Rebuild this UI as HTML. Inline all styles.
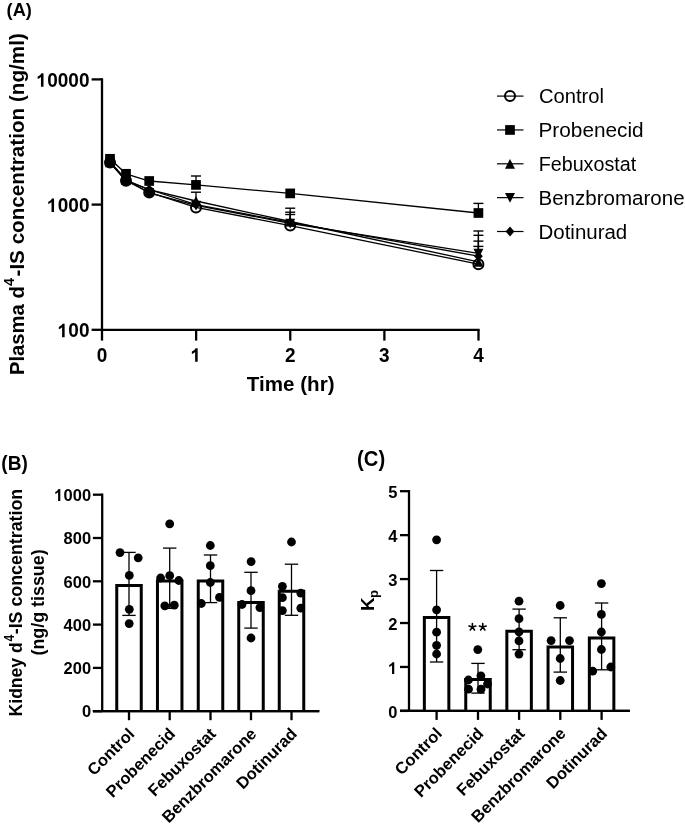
<!DOCTYPE html>
<html><head><meta charset="utf-8"><style>
html,body{margin:0;padding:0;background:#fff;}
svg{display:block;font-family:"Liberation Sans", sans-serif;filter:grayscale(1);}
</style></head><body>
<svg width="685" height="826" viewBox="0 0 685 826" font-family='"Liberation Sans", sans-serif' fill="#000">
<text transform="translate(6.6,15.8) scale(0.96,1)" font-size="19" font-weight="bold">(A)</text>
<path d="M102.0,79.4 V329.8 H478.5" fill="none" stroke="#000" stroke-width="2.3" stroke-linecap="square"/>
<line x1="91.6" y1="79.4" x2="102.0" y2="79.4" stroke="#000" stroke-width="2.3"/>
<line x1="91.6" y1="204.60000000000002" x2="102.0" y2="204.60000000000002" stroke="#000" stroke-width="2.3"/>
<line x1="91.6" y1="329.8" x2="102.0" y2="329.8" stroke="#000" stroke-width="2.3"/>
<line x1="102.0" y1="329.8" x2="102.0" y2="340.6" stroke="#000" stroke-width="2.3"/>
<g transform="translate(0,354.95) scale(1,1.04) translate(0,-354.95)">
<text x="102.0" y="361.6" font-size="19" font-weight="bold" text-anchor="middle">0</text>
</g>
<line x1="196.125" y1="329.8" x2="196.125" y2="340.6" stroke="#000" stroke-width="2.3"/>
<g transform="translate(0,354.95) scale(1,1.04) translate(0,-354.95)">
<text x="196.125" y="361.6" font-size="19" font-weight="bold" text-anchor="middle"> </text>
<path transform="translate(190.24,361.6) scale(0.009277,-0.009277)" d="M801 0L527 0L527 1033Q377 893 173 826L173 1075Q280 1110 406 1208Q532 1306 579 1409L801 1409Z"/>
</g>
<line x1="290.25" y1="329.8" x2="290.25" y2="340.6" stroke="#000" stroke-width="2.3"/>
<g transform="translate(0,354.95) scale(1,1.04) translate(0,-354.95)">
<text x="290.25" y="361.6" font-size="19" font-weight="bold" text-anchor="middle">2</text>
</g>
<line x1="384.375" y1="329.8" x2="384.375" y2="340.6" stroke="#000" stroke-width="2.3"/>
<g transform="translate(0,354.95) scale(1,1.04) translate(0,-354.95)">
<text x="384.375" y="361.6" font-size="19" font-weight="bold" text-anchor="middle">3</text>
</g>
<line x1="478.5" y1="329.8" x2="478.5" y2="340.6" stroke="#000" stroke-width="2.3"/>
<g transform="translate(0,354.95) scale(1,1.04) translate(0,-354.95)">
<text x="478.5" y="361.6" font-size="19" font-weight="bold" text-anchor="middle">4</text>
</g>
<g transform="translate(0,79.95) scale(1,1.04) translate(0,-79.95)">
<text x="89.5" y="86.60000000000001" font-size="19" font-weight="bold" text-anchor="end"> 0000</text>
<path transform="translate(36.07,86.60000000000001) scale(0.009277,-0.009277)" d="M801 0L527 0L527 1033Q377 893 173 826L173 1075Q280 1110 406 1208Q532 1306 579 1409L801 1409Z"/>
</g>
<g transform="translate(0,205.15) scale(1,1.04) translate(0,-205.15)">
<text x="89.5" y="211.8" font-size="19" font-weight="bold" text-anchor="end"> 000</text>
<path transform="translate(46.63,211.8) scale(0.009277,-0.009277)" d="M801 0L527 0L527 1033Q377 893 173 826L173 1075Q280 1110 406 1208Q532 1306 579 1409L801 1409Z"/>
</g>
<g transform="translate(0,330.35) scale(1,1.04) translate(0,-330.35)">
<text x="89.5" y="337.0" font-size="19" font-weight="bold" text-anchor="end"> 00</text>
<path transform="translate(57.20,337.0) scale(0.009277,-0.009277)" d="M801 0L527 0L527 1033Q377 893 173 826L173 1075Q280 1110 406 1208Q532 1306 579 1409L801 1409Z"/>
</g>
<text transform="translate(290.7,391) scale(1.03,1.03)" font-size="20" font-weight="bold" text-anchor="middle">Time (hr)</text>
<text transform="translate(23.5,375.06) rotate(-90) scale(1.012,1)" font-size="20" font-weight="bold">Plasma d</text>
<text transform="translate(13.8,286.0) rotate(-90) scale(0.93,1)" font-size="15.5" font-weight="bold">4</text>
<text transform="translate(23.5,276.5) rotate(-90) scale(1.0328,1)" font-size="20" font-weight="bold">-IS concentration (ng/ml)</text>
<polyline points="110,158.8 126,173.8 149.2,181.0 196,184.9 290.2,193.4 478.4,213.0" fill="none" stroke="#000" stroke-width="1.3"/>
<polyline points="110,161.8 126,179.6 149.2,192.8 196,205.3 290.2,223.3 478.4,253.4" fill="none" stroke="#000" stroke-width="1.3"/>
<polyline points="110,162.3 126,180.2 149.2,189.6 196,201.0 290.2,221.5 478.4,261.8" fill="none" stroke="#000" stroke-width="1.3"/>
<polyline points="110,162.8 126,180.8 149.2,189.5 196,204.6 290.2,222.4 478.4,256.2" fill="none" stroke="#000" stroke-width="1.3"/>
<polyline points="110,162.5 126,180.8 149.2,192.4 196,207.4 290.2,225.6 478.4,264.2" fill="none" stroke="#000" stroke-width="1.3"/>
<line x1="196" y1="184.9" x2="196" y2="176.0" stroke="#000" stroke-width="1.3"/>
<line x1="191" y1="176.0" x2="201" y2="176.0" stroke="#000" stroke-width="1.4"/>
<line x1="196" y1="201.0" x2="196" y2="192.2" stroke="#000" stroke-width="1.3"/>
<line x1="191" y1="192.2" x2="201" y2="192.2" stroke="#000" stroke-width="1.4"/>
<line x1="290.2" y1="221.5" x2="290.2" y2="208.2" stroke="#000" stroke-width="1.3"/>
<line x1="285.2" y1="208.2" x2="295.2" y2="208.2" stroke="#000" stroke-width="1.4"/>
<line x1="290.2" y1="222.4" x2="290.2" y2="212.2" stroke="#000" stroke-width="1.3"/>
<line x1="285.2" y1="212.2" x2="295.2" y2="212.2" stroke="#000" stroke-width="1.4"/>
<line x1="290.2" y1="225.6" x2="290.2" y2="214.5" stroke="#000" stroke-width="1.3"/>
<line x1="285.2" y1="214.5" x2="295.2" y2="214.5" stroke="#000" stroke-width="1.4"/>
<line x1="478.4" y1="213" x2="478.4" y2="203.4" stroke="#000" stroke-width="1.3"/>
<line x1="473.4" y1="203.4" x2="483.4" y2="203.4" stroke="#000" stroke-width="1.4"/>
<line x1="478.4" y1="253.4" x2="478.4" y2="231.0" stroke="#000" stroke-width="1.3"/>
<line x1="473.4" y1="231.0" x2="483.4" y2="231.0" stroke="#000" stroke-width="1.4"/>
<line x1="478.4" y1="256.2" x2="478.4" y2="235.3" stroke="#000" stroke-width="1.3"/>
<line x1="473.4" y1="235.3" x2="483.4" y2="235.3" stroke="#000" stroke-width="1.4"/>
<line x1="478.4" y1="261.8" x2="478.4" y2="241.1" stroke="#000" stroke-width="1.3"/>
<line x1="473.4" y1="241.1" x2="483.4" y2="241.1" stroke="#000" stroke-width="1.4"/>
<line x1="478.4" y1="264.2" x2="478.4" y2="246.4" stroke="#000" stroke-width="1.3"/>
<line x1="473.4" y1="246.4" x2="483.4" y2="246.4" stroke="#000" stroke-width="1.4"/>
<circle cx="110" cy="162.5" r="5" fill="#000" stroke="#000" stroke-width="2"/>
<circle cx="126" cy="180.8" r="5" fill="#000" stroke="#000" stroke-width="2"/>
<circle cx="149.2" cy="192.4" r="5" fill="#000" stroke="#000" stroke-width="2"/>
<circle cx="196" cy="207.4" r="5" fill="none" stroke="#000" stroke-width="2"/>
<circle cx="290.2" cy="225.6" r="5" fill="none" stroke="#000" stroke-width="2"/>
<circle cx="478.4" cy="264.2" r="5" fill="none" stroke="#000" stroke-width="2"/>
<path d="M110,157.9 L114.4,162.8 L110,167.70000000000002 L105.6,162.8 Z" fill="#000"/>
<path d="M126,175.9 L130.4,180.8 L126,185.70000000000002 L121.6,180.8 Z" fill="#000"/>
<path d="M149.2,184.6 L153.6,189.5 L149.2,194.4 L144.79999999999998,189.5 Z" fill="#000"/>
<path d="M196,199.7 L200.4,204.6 L196,209.5 L191.6,204.6 Z" fill="#000"/>
<path d="M290.2,217.5 L294.59999999999997,222.4 L290.2,227.3 L285.8,222.4 Z" fill="#000"/>
<path d="M478.4,251.29999999999998 L482.79999999999995,256.2 L478.4,261.09999999999997 L474.0,256.2 Z" fill="#000"/>
<path d="M110,166.9 L115,157.20000000000002 L105,157.20000000000002 Z" fill="#000"/>
<path d="M126,184.7 L131,175.0 L121,175.0 Z" fill="#000"/>
<path d="M149.2,197.9 L154.2,188.20000000000002 L144.2,188.20000000000002 Z" fill="#000"/>
<path d="M196,210.4 L201,200.70000000000002 L191,200.70000000000002 Z" fill="#000"/>
<path d="M290.2,228.4 L295.2,218.70000000000002 L285.2,218.70000000000002 Z" fill="#000"/>
<path d="M478.4,258.5 L483.4,248.8 L473.4,248.8 Z" fill="#000"/>
<path d="M110,157.4 L115,167.20000000000002 L105,167.20000000000002 Z" fill="#000"/>
<path d="M126,175.29999999999998 L131,185.1 L121,185.1 Z" fill="#000"/>
<path d="M149.2,184.7 L154.2,194.5 L144.2,194.5 Z" fill="#000"/>
<path d="M196,196.1 L201,205.9 L191,205.9 Z" fill="#000"/>
<path d="M290.2,216.6 L295.2,226.4 L285.2,226.4 Z" fill="#000"/>
<path d="M478.4,256.90000000000003 L483.4,266.7 L473.4,266.7 Z" fill="#000"/>
<rect x="105.15" y="153.95000000000002" width="9.7" height="9.7" fill="#000"/>
<rect x="121.15" y="168.95000000000002" width="9.7" height="9.7" fill="#000"/>
<rect x="144.35" y="176.15" width="9.7" height="9.7" fill="#000"/>
<rect x="191.15" y="180.05" width="9.7" height="9.7" fill="#000"/>
<rect x="285.34999999999997" y="188.55" width="9.7" height="9.7" fill="#000"/>
<rect x="473.54999999999995" y="208.15" width="9.7" height="9.7" fill="#000"/>
<line x1="497" y1="96.1" x2="523.5" y2="96.1" stroke="#000" stroke-width="1.2"/>
<circle cx="510" cy="96.1" r="5" fill="none" stroke="#000" stroke-width="2"/>
<text transform="translate(539.0,103.1) scale(1.035,1)" font-size="19.5">Control</text>
<line x1="497" y1="129.95" x2="523.5" y2="129.95" stroke="#000" stroke-width="1.2"/>
<rect x="505.15" y="125.1" width="9.7" height="9.7" fill="#000"/>
<text transform="translate(538.5,136.95) scale(1.066,1)" font-size="19.5">Probenecid</text>
<line x1="497" y1="163.8" x2="523.5" y2="163.8" stroke="#000" stroke-width="1.2"/>
<path d="M510,158.9 L515,168.70000000000002 L505,168.70000000000002 Z" fill="#000"/>
<text transform="translate(538.7,170.8) scale(1.011,1)" font-size="19.5">Febuxostat</text>
<line x1="497" y1="197.65" x2="523.5" y2="197.65" stroke="#000" stroke-width="1.2"/>
<path d="M510,202.75 L515,193.05 L505,193.05 Z" fill="#000"/>
<text transform="translate(538.5,204.65) scale(1.053,1)" font-size="19.5">Benzbromarone</text>
<line x1="497" y1="231.5" x2="523.5" y2="231.5" stroke="#000" stroke-width="1.2"/>
<path d="M510,226.6 L514.4,231.5 L510,236.4 L505.6,231.5 Z" fill="#000"/>
<text transform="translate(538.5,238.5) scale(1.05,1)" font-size="19.5">Dotinurad</text>
<text transform="translate(1.35,470.3) scale(0.93,1)" font-size="20.5" font-weight="bold">(B)</text>
<path d="M102.2,493.55 V711.2" fill="none" stroke="#000" stroke-width="2.3"/>
<line x1="92.9" y1="711.2" x2="319.3" y2="711.2" stroke="#000" stroke-width="2.3"/>
<line x1="92.9" y1="711.2" x2="102.2" y2="711.2" stroke="#000" stroke-width="2.3"/>
<g transform="translate(0,711.43) scale(1,1.04) translate(0,-711.43)">
<text x="91.1" y="717.2" font-size="16.5" font-weight="bold" text-anchor="end">0</text>
</g>
<line x1="92.9" y1="667.9000000000001" x2="102.2" y2="667.9000000000001" stroke="#000" stroke-width="2.3"/>
<g transform="translate(0,668.13) scale(1,1.04) translate(0,-668.13)">
<text x="91.1" y="673.9000000000001" font-size="16.5" font-weight="bold" text-anchor="end">200</text>
</g>
<line x1="92.9" y1="624.6" x2="102.2" y2="624.6" stroke="#000" stroke-width="2.3"/>
<g transform="translate(0,624.83) scale(1,1.04) translate(0,-624.83)">
<text x="91.1" y="630.6" font-size="16.5" font-weight="bold" text-anchor="end">400</text>
</g>
<line x1="92.9" y1="581.3" x2="102.2" y2="581.3" stroke="#000" stroke-width="2.3"/>
<g transform="translate(0,581.52) scale(1,1.04) translate(0,-581.52)">
<text x="91.1" y="587.3" font-size="16.5" font-weight="bold" text-anchor="end">600</text>
</g>
<line x1="92.9" y1="538.0" x2="102.2" y2="538.0" stroke="#000" stroke-width="2.3"/>
<g transform="translate(0,538.23) scale(1,1.04) translate(0,-538.23)">
<text x="91.1" y="544.0" font-size="16.5" font-weight="bold" text-anchor="end">800</text>
</g>
<line x1="92.9" y1="494.7" x2="102.2" y2="494.7" stroke="#000" stroke-width="2.3"/>
<g transform="translate(0,494.93) scale(1,1.04) translate(0,-494.93)">
<text x="91.1" y="500.7" font-size="16.5" font-weight="bold" text-anchor="end"> 000</text>
<path transform="translate(53.87,500.7) scale(0.008057,-0.008057)" d="M801 0L527 0L527 1033Q377 893 173 826L173 1075Q280 1110 406 1208Q532 1306 579 1409L801 1409Z"/>
</g>
<path d="M116.75,711.2 V585.5 H141.25 V711.2" fill="#fff" stroke="#000" stroke-width="3.0" stroke-linejoin="miter"/>
<path d="M157.45,711.2 V581.0 H181.95 V711.2" fill="#fff" stroke="#000" stroke-width="3.0" stroke-linejoin="miter"/>
<path d="M198.25,711.2 V581.0 H222.75 V711.2" fill="#fff" stroke="#000" stroke-width="3.0" stroke-linejoin="miter"/>
<path d="M238.75,711.2 V602.5 H263.25 V711.2" fill="#fff" stroke="#000" stroke-width="3.0" stroke-linejoin="miter"/>
<path d="M279.25,711.2 V591.2 H303.75 V711.2" fill="#fff" stroke="#000" stroke-width="3.0" stroke-linejoin="miter"/>
<line x1="129.0" y1="552.4" x2="129.0" y2="615.4" stroke="#000" stroke-width="1.3"/>
<line x1="122.3" y1="552.4" x2="135.7" y2="552.4" stroke="#000" stroke-width="1.3"/>
<line x1="122.3" y1="615.4" x2="135.7" y2="615.4" stroke="#000" stroke-width="1.3"/>
<line x1="169.7" y1="548.1" x2="169.7" y2="608.4" stroke="#000" stroke-width="1.3"/>
<line x1="163.0" y1="548.1" x2="176.39999999999998" y2="548.1" stroke="#000" stroke-width="1.3"/>
<line x1="163.0" y1="608.4" x2="176.39999999999998" y2="608.4" stroke="#000" stroke-width="1.3"/>
<line x1="210.5" y1="555.0" x2="210.5" y2="602.6" stroke="#000" stroke-width="1.3"/>
<line x1="203.8" y1="555.0" x2="217.2" y2="555.0" stroke="#000" stroke-width="1.3"/>
<line x1="203.8" y1="602.6" x2="217.2" y2="602.6" stroke="#000" stroke-width="1.3"/>
<line x1="251.0" y1="572.3" x2="251.0" y2="628.1" stroke="#000" stroke-width="1.3"/>
<line x1="244.3" y1="572.3" x2="257.7" y2="572.3" stroke="#000" stroke-width="1.3"/>
<line x1="244.3" y1="628.1" x2="257.7" y2="628.1" stroke="#000" stroke-width="1.3"/>
<line x1="291.5" y1="564.2" x2="291.5" y2="615.3" stroke="#000" stroke-width="1.3"/>
<line x1="284.8" y1="564.2" x2="298.2" y2="564.2" stroke="#000" stroke-width="1.3"/>
<line x1="284.8" y1="615.3" x2="298.2" y2="615.3" stroke="#000" stroke-width="1.3"/>
<circle cx="120" cy="552.6" r="4.4" fill="#000"/>
<circle cx="138.2" cy="557.8" r="4.4" fill="#000"/>
<circle cx="129.3" cy="575.4" r="4.4" fill="#000"/>
<circle cx="129.3" cy="609.3" r="4.4" fill="#000"/>
<circle cx="129.2" cy="623.6" r="4.4" fill="#000"/>
<circle cx="169.7" cy="523.8" r="4.4" fill="#000"/>
<circle cx="160.6" cy="578" r="4.4" fill="#000"/>
<circle cx="169.7" cy="575.7" r="4.4" fill="#000"/>
<circle cx="178.8" cy="580.5" r="4.4" fill="#000"/>
<circle cx="164.8" cy="605.8" r="4.4" fill="#000"/>
<circle cx="174.3" cy="605.2" r="4.4" fill="#000"/>
<circle cx="210.3" cy="545.5" r="4.4" fill="#000"/>
<circle cx="210.3" cy="565.7" r="4.4" fill="#000"/>
<circle cx="210.3" cy="582.5" r="4.4" fill="#000"/>
<circle cx="219.5" cy="597.4" r="4.4" fill="#000"/>
<circle cx="201.3" cy="603.5" r="4.4" fill="#000"/>
<circle cx="251.1" cy="561.6" r="4.4" fill="#000"/>
<circle cx="251" cy="590.7" r="4.4" fill="#000"/>
<circle cx="242" cy="604.5" r="4.4" fill="#000"/>
<circle cx="259.9" cy="607.6" r="4.4" fill="#000"/>
<circle cx="251" cy="638" r="4.4" fill="#000"/>
<circle cx="291.5" cy="542" r="4.4" fill="#000"/>
<circle cx="282.4" cy="586.3" r="4.4" fill="#000"/>
<circle cx="282.4" cy="597.7" r="4.4" fill="#000"/>
<circle cx="282.4" cy="610.6" r="4.4" fill="#000"/>
<circle cx="300.8" cy="593.1" r="4.4" fill="#000"/>
<circle cx="300.8" cy="608.1" r="4.4" fill="#000"/>
<line x1="129.0" y1="711.2" x2="129.0" y2="720.2" stroke="#000" stroke-width="2.3"/>
<text transform="translate(135.5,734.9000000000001) rotate(-45)" x="0" y="0" font-size="16.5" font-weight="bold" text-anchor="end">Control</text>
<line x1="169.7" y1="711.2" x2="169.7" y2="720.2" stroke="#000" stroke-width="2.3"/>
<text transform="translate(176.2,734.9000000000001) rotate(-45)" x="0" y="0" font-size="16.5" font-weight="bold" text-anchor="end">Probenecid</text>
<line x1="210.5" y1="711.2" x2="210.5" y2="720.2" stroke="#000" stroke-width="2.3"/>
<text transform="translate(217.0,734.9000000000001) rotate(-45)" x="0" y="0" font-size="16.5" font-weight="bold" text-anchor="end">Febuxostat</text>
<line x1="251.0" y1="711.2" x2="251.0" y2="720.2" stroke="#000" stroke-width="2.3"/>
<text transform="translate(257.5,734.9000000000001) rotate(-45)" x="0" y="0" font-size="16.5" font-weight="bold" text-anchor="end">Benzbromarone</text>
<line x1="291.5" y1="711.2" x2="291.5" y2="720.2" stroke="#000" stroke-width="2.3"/>
<text transform="translate(298.0,734.9000000000001) rotate(-45)" x="0" y="0" font-size="16.5" font-weight="bold" text-anchor="end">Dotinurad</text>
<line x1="92.9" y1="711.2" x2="319.3" y2="711.2" stroke="#000" stroke-width="2.3"/>
<text transform="translate(22,716.4) rotate(-90) scale(0.975,1)" font-size="18" font-weight="bold">Kidney d</text>
<text transform="translate(13.8,641.5) rotate(-90) scale(0.88,1)" font-size="13.8" font-weight="bold">4</text>
<text transform="translate(22,634.3) rotate(-90) scale(0.99,1)" font-size="18" font-weight="bold">-IS concentration</text>
<text transform="translate(44,655.5) rotate(-90) scale(0.993,1)" font-size="18" font-weight="bold">(ng/g tissue)</text>
<text transform="translate(357.1,466.4) scale(0.94,1)" font-size="21.5" font-weight="bold">(C)</text>
<path d="M409.0,490.05 V710.9" fill="none" stroke="#000" stroke-width="2.3"/>
<line x1="400" y1="710.9" x2="629.9" y2="710.9" stroke="#000" stroke-width="2.3"/>
<line x1="400" y1="710.9" x2="409.0" y2="710.9" stroke="#000" stroke-width="2.3"/>
<g transform="translate(0,711.92) scale(1,1.04) translate(0,-711.92)">
<text x="397.5" y="717.6999999999999" font-size="16.5" font-weight="bold" text-anchor="end">0</text>
</g>
<line x1="400" y1="666.96" x2="409.0" y2="666.96" stroke="#000" stroke-width="2.3"/>
<g transform="translate(0,667.99) scale(1,1.04) translate(0,-667.99)">
<text x="397.5" y="673.76" font-size="16.5" font-weight="bold" text-anchor="end"> </text>
<path transform="translate(387.80,673.76) scale(0.008057,-0.008057)" d="M801 0L527 0L527 1033Q377 893 173 826L173 1075Q280 1110 406 1208Q532 1306 579 1409L801 1409Z"/>
</g>
<line x1="400" y1="623.02" x2="409.0" y2="623.02" stroke="#000" stroke-width="2.3"/>
<g transform="translate(0,624.04) scale(1,1.04) translate(0,-624.04)">
<text x="397.5" y="629.8199999999999" font-size="16.5" font-weight="bold" text-anchor="end">2</text>
</g>
<line x1="400" y1="579.0799999999999" x2="409.0" y2="579.0799999999999" stroke="#000" stroke-width="2.3"/>
<g transform="translate(0,580.10) scale(1,1.04) translate(0,-580.10)">
<text x="397.5" y="585.8799999999999" font-size="16.5" font-weight="bold" text-anchor="end">3</text>
</g>
<line x1="400" y1="535.14" x2="409.0" y2="535.14" stroke="#000" stroke-width="2.3"/>
<g transform="translate(0,536.16) scale(1,1.04) translate(0,-536.16)">
<text x="397.5" y="541.9399999999999" font-size="16.5" font-weight="bold" text-anchor="end">4</text>
</g>
<line x1="400" y1="491.2" x2="409.0" y2="491.2" stroke="#000" stroke-width="2.3"/>
<g transform="translate(0,492.23) scale(1,1.04) translate(0,-492.23)">
<text x="397.5" y="498.0" font-size="16.5" font-weight="bold" text-anchor="end">5</text>
</g>
<path d="M424.35,710.9 V617.4 H448.85 V710.9" fill="#fff" stroke="#000" stroke-width="3.0" stroke-linejoin="miter"/>
<path d="M465.75,710.9 V679.6 H490.25 V710.9" fill="#fff" stroke="#000" stroke-width="3.0" stroke-linejoin="miter"/>
<path d="M506.85,710.9 V631.2 H531.35 V710.9" fill="#fff" stroke="#000" stroke-width="3.0" stroke-linejoin="miter"/>
<path d="M548.05,710.9 V647.0 H572.55 V710.9" fill="#fff" stroke="#000" stroke-width="3.0" stroke-linejoin="miter"/>
<path d="M589.35,710.9 V638.1 H613.85 V710.9" fill="#fff" stroke="#000" stroke-width="3.0" stroke-linejoin="miter"/>
<line x1="436.6" y1="570.5" x2="436.6" y2="662.0" stroke="#000" stroke-width="1.3"/>
<line x1="429.90000000000003" y1="570.5" x2="443.3" y2="570.5" stroke="#000" stroke-width="1.3"/>
<line x1="429.90000000000003" y1="662.0" x2="443.3" y2="662.0" stroke="#000" stroke-width="1.3"/>
<line x1="478.0" y1="663.4" x2="478.0" y2="693.1" stroke="#000" stroke-width="1.3"/>
<line x1="471.3" y1="663.4" x2="484.7" y2="663.4" stroke="#000" stroke-width="1.3"/>
<line x1="471.3" y1="693.1" x2="484.7" y2="693.1" stroke="#000" stroke-width="1.3"/>
<line x1="519.1" y1="609.1" x2="519.1" y2="649.7" stroke="#000" stroke-width="1.3"/>
<line x1="512.4" y1="609.1" x2="525.8000000000001" y2="609.1" stroke="#000" stroke-width="1.3"/>
<line x1="512.4" y1="649.7" x2="525.8000000000001" y2="649.7" stroke="#000" stroke-width="1.3"/>
<line x1="560.3" y1="617.8" x2="560.3" y2="672.1" stroke="#000" stroke-width="1.3"/>
<line x1="553.5999999999999" y1="617.8" x2="567.0" y2="617.8" stroke="#000" stroke-width="1.3"/>
<line x1="553.5999999999999" y1="672.1" x2="567.0" y2="672.1" stroke="#000" stroke-width="1.3"/>
<line x1="601.6" y1="603.0" x2="601.6" y2="669.8" stroke="#000" stroke-width="1.3"/>
<line x1="594.9" y1="603.0" x2="608.3000000000001" y2="603.0" stroke="#000" stroke-width="1.3"/>
<line x1="594.9" y1="669.8" x2="608.3000000000001" y2="669.8" stroke="#000" stroke-width="1.3"/>
<circle cx="436.6" cy="539.8" r="4.4" fill="#000"/>
<circle cx="436.6" cy="609.8" r="4.4" fill="#000"/>
<circle cx="436.6" cy="632.2" r="4.4" fill="#000"/>
<circle cx="436.6" cy="645.3" r="4.4" fill="#000"/>
<circle cx="436.6" cy="654" r="4.4" fill="#000"/>
<circle cx="477.8" cy="649.6" r="4.4" fill="#000"/>
<circle cx="480.9" cy="675.8" r="4.4" fill="#000"/>
<circle cx="468.4" cy="680" r="4.4" fill="#000"/>
<circle cx="487.5" cy="684" r="4.4" fill="#000"/>
<circle cx="468.5" cy="689.2" r="4.4" fill="#000"/>
<circle cx="481" cy="689.2" r="4.4" fill="#000"/>
<circle cx="519" cy="601.2" r="4.4" fill="#000"/>
<circle cx="519" cy="618.7" r="4.4" fill="#000"/>
<circle cx="519" cy="631.8" r="4.4" fill="#000"/>
<circle cx="519" cy="640.9" r="4.4" fill="#000"/>
<circle cx="519" cy="654.1" r="4.4" fill="#000"/>
<circle cx="560.2" cy="605.5" r="4.4" fill="#000"/>
<circle cx="551.1" cy="640.6" r="4.4" fill="#000"/>
<circle cx="569.5" cy="640.6" r="4.4" fill="#000"/>
<circle cx="560.2" cy="658.5" r="4.4" fill="#000"/>
<circle cx="560.2" cy="680.5" r="4.4" fill="#000"/>
<circle cx="601.4" cy="583.6" r="4.4" fill="#000"/>
<circle cx="601.4" cy="614.4" r="4.4" fill="#000"/>
<circle cx="601.4" cy="632" r="4.4" fill="#000"/>
<circle cx="601.4" cy="649.5" r="4.4" fill="#000"/>
<circle cx="592.7" cy="671.2" r="4.4" fill="#000"/>
<circle cx="610.8" cy="667" r="4.4" fill="#000"/>
<line x1="436.6" y1="710.9" x2="436.6" y2="719.9" stroke="#000" stroke-width="2.3"/>
<text transform="translate(443.1,734.6) rotate(-45)" x="0" y="0" font-size="16.5" font-weight="bold" text-anchor="end">Control</text>
<line x1="478.0" y1="710.9" x2="478.0" y2="719.9" stroke="#000" stroke-width="2.3"/>
<text transform="translate(484.5,734.6) rotate(-45)" x="0" y="0" font-size="16.5" font-weight="bold" text-anchor="end">Probenecid</text>
<line x1="519.1" y1="710.9" x2="519.1" y2="719.9" stroke="#000" stroke-width="2.3"/>
<text transform="translate(525.6,734.6) rotate(-45)" x="0" y="0" font-size="16.5" font-weight="bold" text-anchor="end">Febuxostat</text>
<line x1="560.3" y1="710.9" x2="560.3" y2="719.9" stroke="#000" stroke-width="2.3"/>
<text transform="translate(566.8,734.6) rotate(-45)" x="0" y="0" font-size="16.5" font-weight="bold" text-anchor="end">Benzbromarone</text>
<line x1="601.6" y1="710.9" x2="601.6" y2="719.9" stroke="#000" stroke-width="2.3"/>
<text transform="translate(608.1,734.6) rotate(-45)" x="0" y="0" font-size="16.5" font-weight="bold" text-anchor="end">Dotinurad</text>
<line x1="400" y1="710.9" x2="629.9" y2="710.9" stroke="#000" stroke-width="2.3"/>
<path d="M472.4,627.1 L472.40,623.50 M472.4,627.1 L475.82,625.99 M472.4,627.1 L474.52,630.01 M472.4,627.1 L470.28,630.01 M472.4,627.1 L468.98,625.99 " stroke="#000" stroke-width="1.6" stroke-linecap="round" fill="none"/>
<path d="M482.75,627.1 L482.75,623.50 M482.75,627.1 L486.17,625.99 M482.75,627.1 L484.87,630.01 M482.75,627.1 L480.63,630.01 M482.75,627.1 L479.33,625.99 " stroke="#000" stroke-width="1.6" stroke-linecap="round" fill="none"/>
<text transform="translate(374.4,611) rotate(-90)" font-size="19" font-weight="bold">K<tspan dx="-0.6" dy="4" font-size="13">p</tspan></text>
</svg>
</body></html>
